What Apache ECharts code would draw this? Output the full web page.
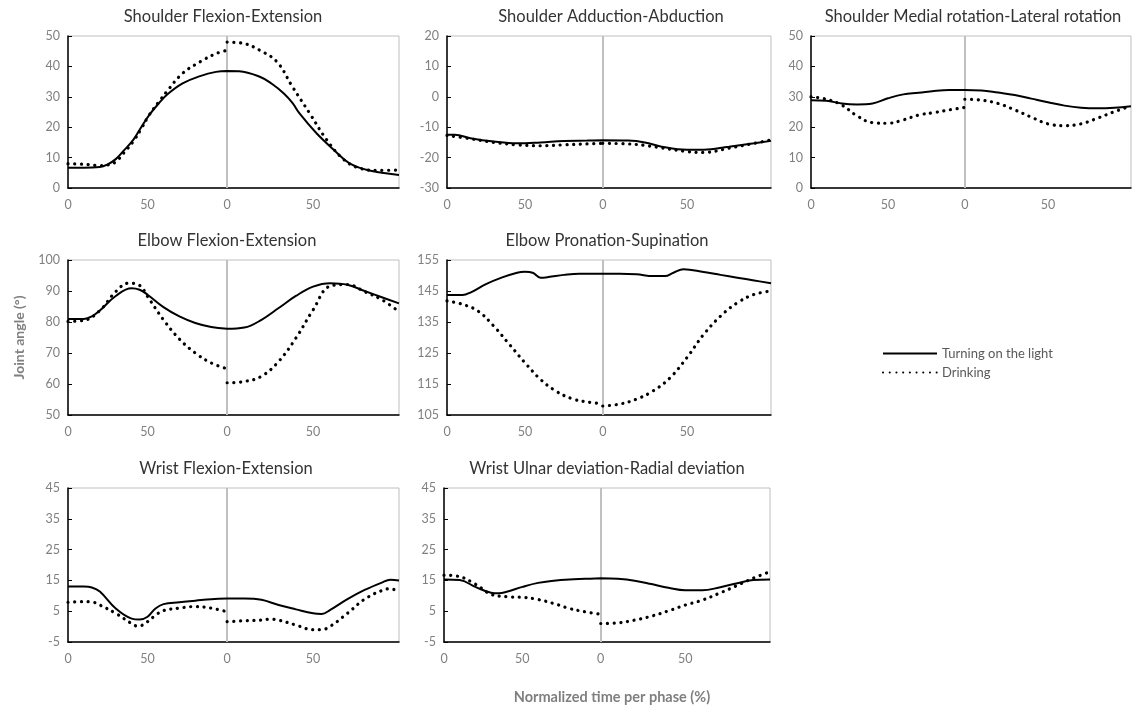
<!DOCTYPE html>
<html>
<head>
<meta charset="utf-8">
<script src="https://cdn.jsdelivr.net/npm/echarts@6/dist/echarts.min.js"></script>
<style>
html,body{margin:0;padding:0;background:#fff;}
#chart{width:1132px;height:706px;}
</style>
</head>
<body>
<div id="chart"></div>
<script>
// ---- Data: [time within phase (%), joint angle (deg)] ----
const seriesNames = ['Turning on the light', 'Drinking'];
const plotTitles = [
  'Shoulder Flexion-Extension',
  'Shoulder Adduction-Abduction',
  'Shoulder Medial rotation-Lateral rotation',
  'Elbow Flexion-Extension',
  'Elbow Pronation-Supination',
  'Wrist Flexion-Extension',
  'Wrist Ulnar deviation-Radial deviation'
];
const yMins = [0, -30, 0, 50, 105, -5, -5];
const yMaxs = [50, 20, 50, 100, 155, 45, 45];
const yStep = 10;
const xTickLabels = ['0', '50', '0', '50'];

// Shoulder Flexion-Extension
const sfeLight1 = [[0,6.7],[10,6.7],[20,6.9],[25,7.8],[30,9.5],[35,12.3],[41,15.8],[46,20],[51,24],[57,27.8],[62,30.6],[72,34.4],[83,36.8],[93,38.2],[100,38.5]];
const sfeLight2 = [[0,38.5],[7,38.4],[19,36.6],[26,34.3],[33,31.1],[38,28],[42,24.6],[52,18],[62,12.6],[71,8.2],[81,6],[90,5],[100,4.3]];
const sfeDrink1 = [[0,8],[10,7.8],[20,7.4],[25,7.6],[30,8.6],[35,11.5],[41,15.3],[46,19.5],[51,24],[57,28.3],[62,31.7],[72,37.7],[83,41.5],[93,44.2],[100,45.3]];
const sfeDrink2 = [[0,48],[10,47.5],[19,45.3],[29,41.5],[38,33.3],[48,24.6],[58,15.8],[68,9.3],[77,6.5],[88,5.8],[100,5.9]];
// Shoulder Adduction-Abduction
const saaLight1 = [[0,-12.5],[5,-12.5],[15,-13.6],[30,-14.7],[45,-15.3],[60,-15],[75,-14.5],[90,-14.4],[100,-14.3]];
const saaLight2 = [[0,-14.3],[15,-14.4],[25,-15],[35,-16.4],[50,-17.4],[60,-17.4],[75,-16.4],[90,-15.3],[100,-14.5]];
const saaDrink1 = [[0,-12.7],[15,-13.8],[30,-15],[45,-15.8],[60,-16.1],[75,-15.8],[90,-15.5],[100,-15.3]];
const saaDrink2 = [[0,-15.3],[15,-15.5],[25,-16],[35,-16.8],[50,-18],[60,-18.3],[75,-16.9],[90,-15.3],[100,-14.2]];
// Shoulder Medial rotation-Lateral rotation
const smrLight1 = [[0,28.9],[10,28.7],[20,27.8],[30,27.5],[40,27.8],[50,29.5],[60,30.8],[70,31.3],[80,31.9],[90,32.2],[100,32.2]];
const smrLight2 = [[0,32.2],[10,32.1],[20,31.4],[30,30.6],[40,29.4],[50,28.2],[60,27.1],[70,26.4],[80,26.2],[90,26.4],[100,26.9]];
const smrDrink1 = [[0,30],[10,29.2],[20,27.3],[30,23.7],[40,21.5],[50,21.3],[60,22.4],[70,24],[80,24.8],[90,25.7],[100,26.5]];
const smrDrink2 = [[0,29.2],[10,28.9],[20,27.8],[30,25.7],[40,23.3],[50,21.1],[60,20.5],[70,21.1],[80,23],[90,25.1],[100,27]];
// Elbow Flexion-Extension
const efeLight1 = [[0,81],[10,81],[15,81.8],[20,83.7],[30,88.4],[40,90.9],[45,90.4],[50,88.8],[60,84.8],[70,81.8],[80,79.7],[90,78.4],[100,77.8]];
const efeLight2 = [[0,77.8],[10,78.2],[20,80.7],[30,84.5],[40,88.4],[50,91.4],[60,92.5],[70,92],[80,90],[90,88],[100,86]];
const efeDrink1 = [[0,80.2],[10,80.5],[20,83.7],[30,89.8],[38,92.5],[45,91.8],[50,88.2],[60,80.7],[70,74.5],[80,70],[90,66.8],[100,64.9]];
const efeDrink2 = [[0,60.4],[10,60.8],[20,62.5],[30,67.3],[40,74.8],[50,83.9],[60,91.6],[70,92.1],[80,89.8],[90,87.2],[100,83.3]];
// Elbow Pronation-Supination
const epsLight1 = [[0,143.7],[10,143.7],[15,144.5],[25,147.2],[35,149.3],[45,150.9],[50,151.2],[55,150.9],[60,149.3],[65,149.5],[75,150.2],[85,150.6],[100,150.6]];
const epsLight2 = [[0,150.6],[10,150.6],[20,150.4],[30,149.8],[37,149.8],[42,150.9],[48,152],[60,151.1],[70,150.2],[80,149.3],[90,148.4],[100,147.5]];
const epsDrink1 = [[0,141.8],[10,140.7],[20,138.5],[30,133.7],[40,127.8],[50,121.9],[60,116.5],[70,112.7],[80,110.3],[90,109.2],[100,108.7]];
const epsDrink2 = [[0,107.9],[10,108.5],[20,110.1],[30,112.8],[40,117],[50,123.5],[60,131],[70,136.9],[80,141.2],[90,143.9],[100,145]];
// Wrist Flexion-Extension
const wfeLight1 = [[0,13],[10,13],[15,12.7],[20,11.4],[30,5.9],[40,2.6],[45,2.3],[50,3.2],[55,5.9],[60,7.3],[70,7.9],[80,8.4],[90,8.9],[100,9.1]];
const wfeLight2 = [[0,9.1],[10,9.1],[20,8.7],[30,7],[40,5.6],[50,4.3],[55,4.1],[60,5.4],[70,8.9],[80,11.9],[90,14.3],[95,15.2],[100,15]];
const wfeDrink1 = [[0,7.9],[10,8.1],[15,8],[20,7],[30,4.3],[40,1],[44,0.1],[50,1.6],[55,3.7],[60,5.2],[70,6],[80,6.5],[90,6],[100,4.8]];
const wfeDrink2 = [[0,1.6],[10,1.9],[20,2.1],[25,2.4],[30,2.1],[40,0.5],[50,-1],[55,-1],[60,0.1],[70,4.3],[80,8.9],[90,11.7],[95,12.3],[100,11.2]];
// Wrist Ulnar deviation-Radial deviation
const wurLight1 = [[0,15.3],[10,15.1],[20,12.9],[30,11],[35,10.8],[40,11.3],[50,12.9],[60,14.2],[70,14.9],[80,15.3],[90,15.5],[100,15.7]];
const wurLight2 = [[0,15.7],[10,15.5],[20,14.9],[30,13.8],[40,12.6],[50,11.8],[60,11.8],[70,12.7],[80,14],[90,15.1],[100,15.3]];
const wurDrink1 = [[0,16.7],[10,16.2],[20,13.8],[30,10.5],[40,9.7],[50,9.5],[60,8.8],[70,7.5],[80,5.9],[90,4.8],[100,4]];
const wurDrink2 = [[0,1],[10,1.2],[20,2.1],[30,3.4],[40,5.1],[50,7],[60,8.6],[70,10.8],[80,13.2],[90,15.7],[100,17.8]];

const lightData = [[sfeLight1,sfeLight2],[saaLight1,saaLight2],[smrLight1,smrLight2],[efeLight1,efeLight2],[epsLight1,epsLight2],[wfeLight1,wfeLight2],[wurLight1,wurLight2]];
const drinkData = [[sfeDrink1,sfeDrink2],[saaDrink1,saaDrink2],[smrDrink1,smrDrink2],[efeDrink1,efeDrink2],[epsDrink1,epsDrink2],[wfeDrink1,wfeDrink2],[wurDrink1,wurDrink2]];

// ---- Layout ----
const PH2 = 1.08;          // phase 2 occupies slightly wider span on the shared axis
const XMAX = 100 + 100 * PH2;
const grids = [
  {left: 68,  top: 36,  width: 331, height: 152},
  {left: 447, top: 36,  width: 324, height: 152},
  {left: 811, top: 36,  width: 320, height: 152},
  {left: 68,  top: 260, width: 331, height: 155},
  {left: 447, top: 260, width: 324, height: 155},
  {left: 68,  top: 488, width: 331, height: 154},
  {left: 444, top: 488, width: 326, height: 154}
];
const titlePos = [[223,17],[611,17],[973,17],[227,241],[607,241],[226,469],[607,469]];

function joinPhases(p1, p2) {
  const a = p1.map(d => [d[0], d[1]]);
  const b = p2.map(d => [100 + d[0] * PH2, d[1]]);
  return a.concat([[100, '-']], b);
}

const FONT = 'Lato, "Open Sans", sans-serif';
const xTickValues = [0, 50, 100, 100 + 50 * PH2];

const option = {
  animation: false,
  backgroundColor: '#fff',
  textStyle: {fontFamily: FONT},
  grid: grids.map(g => Object.assign({show: true, borderColor: '#bfbfbf', borderWidth: 1, backgroundColor: 'transparent'}, g)),
  xAxis: grids.map((g, i) => ({
    type: 'value', gridIndex: i, min: 0, max: XMAX,
    axisLine: {show: true, onZero: false, lineStyle: {color: '#000', width: 1.5}},
    axisTick: {show: false},
    splitLine: {show: false},
    axisLabel: {
      color: '#808080', fontSize: 12.5, margin: 10, fontFamily: FONT,
      customValues: xTickValues,
      formatter: v => { const k = xTickValues.indexOf(v); return k >= 0 ? xTickLabels[k] : ''; }
    }
  })),
  yAxis: grids.map((g, i) => ({
    type: 'value', gridIndex: i, min: yMins[i], max: yMaxs[i], interval: yStep,
    axisLine: {show: true, onZero: false, lineStyle: {color: '#000', width: 1.5}},
    axisTick: {show: true, inside: true, length: 4, lineStyle: {color: '#000'}},
    splitLine: {show: false},
    axisLabel: {color: '#808080', fontSize: 12.5, margin: 8, fontFamily: FONT},
    name: i === 3 ? 'Joint angle (°)' : '',
    nameLocation: 'middle', nameGap: 42,
    nameTextStyle: {color: '#7f7f7f', fontSize: 14, fontWeight: 'bold', fontFamily: FONT}
  })),
  legend: {
    orient: 'vertical', left: 877, top: 342, itemGap: 6,
    itemWidth: 54, itemHeight: 12,
    data: seriesNames,
    itemStyle: {opacity: 0},
    textStyle: {color: '#595959', fontSize: 13, fontFamily: FONT}
  },
  graphic: titlePos.map((p, i) => ({
    type: 'text', x: p[0], y: p[1], silent: true,
    style: {text: plotTitles[i], fill: '#333', fontSize: 16.5, fontFamily: FONT, textAlign: 'center', textVerticalAlign: 'middle'}
  })).concat([{
    type: 'text', x: 612, y: 697, silent: true,
    style: {text: 'Normalized time per phase (%)', fill: '#7f7f7f', fontSize: 14.5, fontWeight: 'bold', fontFamily: FONT, textAlign: 'center', textVerticalAlign: 'middle'}
  }]),
  series: []
};

grids.forEach((g, i) => {
  option.series.push({
    name: seriesNames[0], type: 'line', xAxisIndex: i, yAxisIndex: i,
    data: joinPhases(lightData[i][0], lightData[i][1]),
    smooth: 0.4, symbol: 'none', connectNulls: false, z: 3,
    lineStyle: {color: '#000', width: 2},
    itemStyle: {color: '#000'},
    markLine: {
      silent: true, symbol: ['none', 'none'], label: {show: false}, z: 1,
      lineStyle: {color: '#c0c0c0', width: 2, type: 'solid'},
      data: [{xAxis: 100}]
    }
  });
  option.series.push({
    name: seriesNames[1], type: 'line', xAxisIndex: i, yAxisIndex: i,
    data: joinPhases(drinkData[i][0], drinkData[i][1]),
    smooth: 0.4, symbol: 'none', connectNulls: false, z: 3,
    lineStyle: {color: '#000', width: 3.2, type: [0.1, 6.6], cap: 'round'},
    itemStyle: {color: '#000'}
  });
});

const chart = echarts.init(document.getElementById('chart'), null, {renderer: 'canvas'});
chart.setOption(option);
</script>
</body>
</html>
